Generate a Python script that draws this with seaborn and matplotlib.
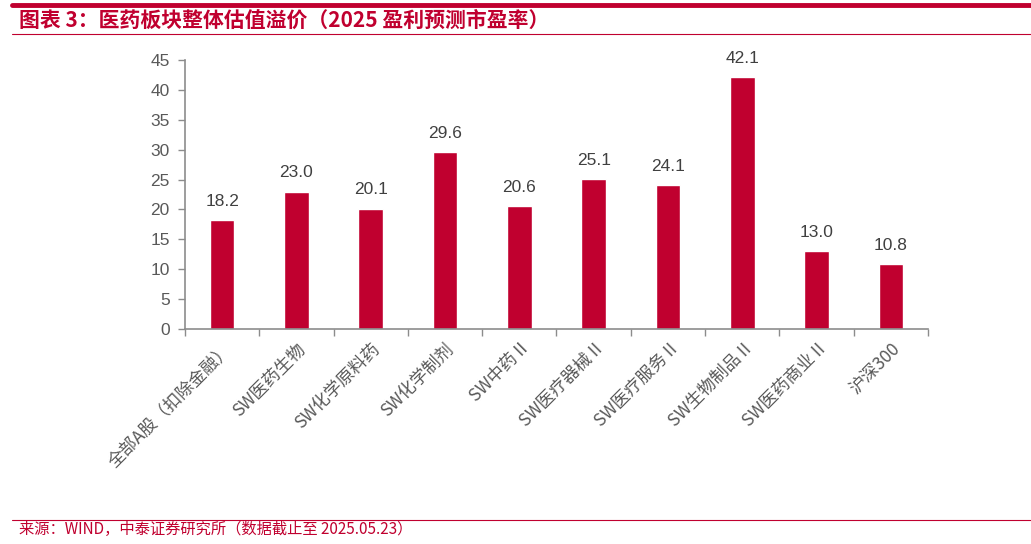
import matplotlib
matplotlib.use('Agg')
import matplotlib.pyplot as plt
import seaborn as sns
import pandas as pd

categories = ['全部A股（扣除金融）', 'SW医药生物', 'SW化学原料药', 'SW化学制剂', 'SW中药 II',
              'SW医疗器械 II', 'SW医疗服务 II', 'SW生物制品 II', 'SW医药商业 II', '沪深300']
pe_2025 = [18.2, 23.0, 20.1, 29.6, 20.6, 25.1, 24.1, 42.1, 13.0, 10.8]
y_ticks = [0, 5, 10, 15, 20, 25, 30, 35, 40, 45]

RED = '#C0002F'
GREY = '#595959'
AXIS = '#8C8C8C'

sns.set_theme(style='white')
plt.rcParams['font.family'] = ['Noto Sans CJK SC', 'DejaVu Sans']

df = pd.DataFrame({'cat': categories, 'pe': pe_2025})

fig = plt.figure(figsize=(10.31, 5.44), dpi=100)
ax = fig.add_axes([0.1794, 0.3952, 0.7207, 0.4945])

sns.barplot(data=df, x='cat', y='pe', color=RED, width=0.33, saturation=1, ax=ax)

for i, v in enumerate(pe_2025):
    ax.text(i, v + 1.9, f'{v:.1f}', ha='center', va='bottom', fontsize=12.5,
            color='#404040', family=['Liberation Sans', 'DejaVu Sans'])

ax.set_xlim(-0.5, len(categories) - 0.5)
ax.set_ylim(0, 45)
ax.set_yticks(y_ticks)
ax.set_yticklabels([str(t) for t in y_ticks], fontsize=12.5, color=GREY,
                   family=['Liberation Sans', 'DejaVu Sans'])
ax.set_xticks([i - 0.5 for i in range(len(categories) + 1)], minor=True)
ax.set_xticks(range(len(categories)))
ax.set_xticklabels(categories, rotation=45, ha='right', rotation_mode='anchor',
                   fontsize=12.5, color=GREY)
ax.tick_params(axis='x', which='major', length=0, pad=8)
ax.tick_params(axis='x', which='minor', length=5, width=1, color=AXIS, bottom=True)
ax.tick_params(axis='y', length=5, width=1, color=AXIS, left=True, pad=6)
ax.set_xlabel('')
ax.set_ylabel('')
ax.grid(False)
for s in ['top', 'right']:
    ax.spines[s].set_visible(False)
for s in ['left', 'bottom']:
    ax.spines[s].set_color(AXIS)
    ax.spines[s].set_linewidth(1.2)

# header and footer rules
fig.add_artist(plt.Line2D([0.012, 1.0], [0.990, 0.990], color=RED, lw=3.5))
fig.add_artist(plt.Line2D([0.012, 1.0], [0.937, 0.937], color=RED, lw=0.8))
fig.add_artist(plt.Line2D([0.012, 1.0], [0.044, 0.044], color=RED, lw=0.8))
fig.text(0.018, 0.962, '图表 3：医药板块整体估值溢价（2025 盈利预测市盈率）', fontsize=15,
         color=RED, fontweight='bold', fontstyle='italic', va='center', ha='left')
fig.text(0.018, 0.026, '来源：WIND，中泰证券研究所（数据截止至 2025.05.23）', fontsize=11,
         color=RED, va='center', ha='left')

fig.savefig('out.png', dpi=100)
